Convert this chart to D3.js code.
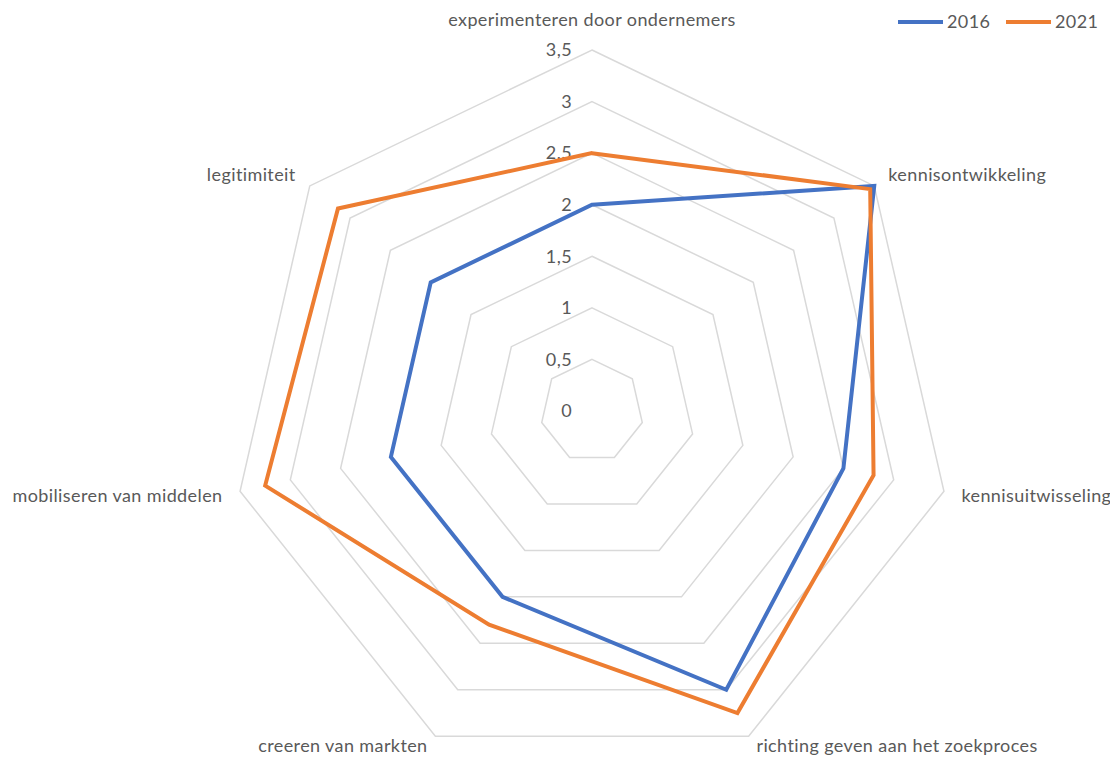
<!DOCTYPE html>
<html>
<head>
<meta charset="utf-8">
<script src="https://cdn.jsdelivr.net/npm/d3@7"></script>
<style>
  body { margin: 0; background: #fff; }
  svg text { font-family: Lato, "Open Sans", sans-serif; fill: #595959; }
</style>
</head>
<body>
<div id="chart"></div>
<script>
// radar chart data
var categories = [
  "experimenteren door ondernemers",
  "kennisontwikkeling",
  "kennisuitwisseling",
  "richting geven aan het zoekproces",
  "creeren van markten",
  "mobiliseren van middelen",
  "legitimiteit"
];
var values2016 = [2, 3.5, 2.5, 3, 2, 2, 2];
var values2021 = [2.5, 3.45, 2.8, 3.25, 2.3, 3.25, 3.15];
var seriesNames = ["2016", "2021"];
var seriesColors = ["#4472C4", "#ED7D31"];
var ticks = [0, 0.5, 1, 1.5, 2, 2.5, 3, 3.5];

var width = 1110, height = 760;
var cx = 592, cy = 411, R = 361;

var svg = d3.select("#chart").append("svg")
    .attr("width", width)
    .attr("height", height);

var r = d3.scaleLinear().domain([0, 3.5]).range([0, R]);
var angle = d3.scalePoint().domain(d3.range(categories.length))
    .range([0, 2 * Math.PI * (categories.length - 1) / categories.length]);

function pt(i, v) {
  var a = angle(i);
  return [cx + r(v) * Math.sin(a), cy - r(v) * Math.cos(a)];
}

var g = svg.append("g");

// grid rings
var line = d3.line();
ticks.slice(1).forEach(function(t) {
  var pts = categories.map(function(c, i) { return pt(i, t); });
  g.append("path")
    .attr("d", line(pts) + "Z")
    .attr("fill", "none")
    .attr("stroke", "#d9d9d9")
    .attr("stroke-width", 1.5);
});

// tick labels
ticks.forEach(function(t) {
  var p = pt(0, t);
  g.append("text")
    .attr("x", cx - 20)
    .attr("y", p[1])
    .attr("dy", "0.35em")
    .attr("text-anchor", "end")
    .style("font-size", "18px")
    .style("letter-spacing", "0.4px")
    .text(String(t).replace(".", ","));
});

// category labels
categories.forEach(function(c, i) {
  var a = angle(i), s = Math.sin(a), co = Math.cos(a);
  var p = pt(i, 3.5 + 18 / r(1));
  var anchor = s > 0.1 ? "start" : (s < -0.1 ? "end" : "middle");
  var y = p[1];
  if (i === 0) y = 20;
  if (co < -0.8) y = 746;
  g.append("text")
    .attr("x", p[0])
    .attr("y", y)
    .attr("dy", "0.35em")
    .attr("text-anchor", anchor)
    .style("font-size", "18px")
    .style("letter-spacing", "0.4px")
    .text(c);
});

// series
[values2016, values2021].forEach(function(vals, k) {
  var pts = vals.map(function(v, i) { return pt(i, v); });
  g.append("path")
    .attr("d", line(pts) + "Z")
    .attr("fill", "none")
    .attr("stroke", seriesColors[k])
    .attr("stroke-width", 4)
    .attr("stroke-linejoin", "miter");
});

// legend
var legend = svg.append("g");
var legendX = [898, 1006];
seriesNames.forEach(function(n, k) {
  legend.append("line")
    .attr("x1", legendX[k]).attr("x2", legendX[k] + 45)
    .attr("y1", 22).attr("y2", 22)
    .attr("stroke", seriesColors[k])
    .attr("stroke-width", 4);
  legend.append("text")
    .attr("x", legendX[k] + 49)
    .attr("y", 22)
    .attr("dy", "0.35em")
    .style("font-size", "18px")
    .style("letter-spacing", "0.4px")
    .text(n);
});
</script>
</body>
</html>
